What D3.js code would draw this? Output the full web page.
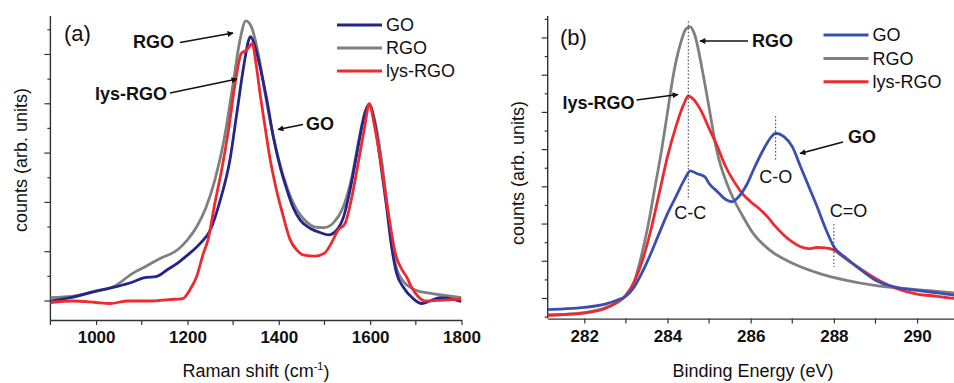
<!DOCTYPE html>
<html>
<head>
<meta charset="utf-8">
<script src="https://cdn.jsdelivr.net/npm/d3@7"></script>
<style>
  body { margin: 0; background: #fff; }
  svg { display: block; font-family: "Liberation Sans", Arial, sans-serif; }
</style>
</head>
<body>
<svg id="chart" width="954" height="383"></svg>
<script>
// ---- panel (a): Raman spectra, [shift cm^-1, counts] ----
const ramanGO = [[900,0.0],[950,0.08],[1000,0.2],[1030,0.26],[1060,0.33],[1082,0.39],[1104,0.47],[1133,0.5],[1155,0.63],[1180,0.78],[1200,0.93],[1228,1.17],[1250,1.44],[1272,2.05],[1293,2.86],[1308,3.8],[1323,4.75],[1334,5.29],[1338,5.36],[1348,5.16],[1359,4.75],[1374,4.07],[1388,3.33],[1403,2.72],[1418,2.25],[1432,1.88],[1447,1.64],[1469,1.47],[1490,1.39],[1509,1.34],[1527,1.44],[1542,1.71],[1556,2.25],[1571,2.99],[1585,3.67],[1598,3.99],[1610,3.6],[1621,2.93],[1636,1.91],[1647,1.1],[1658,0.56],[1672,0.29],[1694,0.05],[1713,-0.05],[1731,0.0],[1753,0.07],[1775,0.05],[1800,-0.01]];
const ramanRGO = [[900,0.07],[950,0.1],[1000,0.2],[1040,0.3],[1080,0.56],[1100,0.66],[1140,0.86],[1180,1.05],[1200,1.24],[1220,1.5],[1240,1.88],[1260,2.45],[1280,3.26],[1300,4.41],[1315,5.29],[1328,5.68],[1340,5.56],[1355,5.02],[1370,4.21],[1385,3.47],[1400,2.86],[1420,2.25],[1440,1.84],[1460,1.61],[1480,1.5],[1500,1.49],[1520,1.59],[1540,1.88],[1560,2.52],[1575,3.26],[1590,3.87],[1598,3.97],[1610,3.67],[1625,2.86],[1640,1.71],[1655,0.76],[1670,0.43],[1700,0.22],[1730,0.16],[1760,0.12],[1800,0.07]];
const ramanLys = [[900,-0.03],[950,0.0],[1000,-0.03],[1030,-0.05],[1070,0.0],[1120,0.0],[1160,0.03],[1190,0.05],[1205,0.22],[1220,0.49],[1235,0.97],[1245,1.24],[1260,1.98],[1275,2.66],[1290,3.47],[1305,4.45],[1318,5.02],[1330,5.09],[1342,5.22],[1350,4.82],[1360,4.14],[1370,3.53],[1380,2.93],[1395,2.25],[1410,1.71],[1425,1.24],[1440,1.03],[1455,0.93],[1480,0.91],[1500,0.97],[1515,1.17],[1530,1.44],[1545,1.57],[1560,2.11],[1575,2.86],[1588,3.53],[1598,4.0],[1610,3.53],[1625,2.72],[1640,1.78],[1655,0.97],[1670,0.63],[1680,0.49],[1690,0.29],[1705,0.09],[1720,0.0],[1760,0.02],[1800,0.04]];
const ramanTicks = [1000, 1200, 1400, 1600, 1800];

// ---- panel (b): XPS C1s, [binding energy eV, counts] ----
const xpsGO = [[281.12,-0.3],[281.5,-0.28],[282,-0.24],[282.5,-0.15],[282.8,-0.04],[283,0.06],[283.2,0.31],[283.4,0.72],[283.6,1.21],[283.8,1.75],[284,2.28],[284.2,2.73],[284.4,3.18],[284.55,3.43],[284.7,3.36],[284.9,3.27],[285,3.09],[285.2,2.87],[285.4,2.66],[285.55,2.6],[285.7,2.72],[285.9,3.05],[286.1,3.54],[286.3,3.99],[286.5,4.35],[286.6,4.44],[286.8,4.35],[287,4.08],[287.2,3.54],[287.4,3.0],[287.6,2.46],[287.8,1.88],[288,1.39],[288.3,1.08],[288.6,0.81],[289,0.49],[289.5,0.3],[290,0.22],[290.5,0.15],[290.9,0.09]];
const xpsRGO = [[281.12,-0.45],[282,-0.38],[282.5,-0.25],[283,0.08],[283.2,0.45],[283.34,1.0],[283.54,2.0],[283.7,3.0],[283.86,4.0],[284.0,5.0],[284.14,6.0],[284.3,6.8],[284.45,7.25],[284.55,7.3],[284.65,7.1],[284.86,6.0],[285.02,5.0],[285.18,4.0],[285.46,3.0],[285.82,2.19],[286.06,1.75],[286.46,1.3],[287.02,0.94],[287.66,0.67],[288.3,0.49],[288.94,0.36],[289.66,0.27],[290.3,0.21],[290.9,0.15]];
const xpsLys = [[281.12,-0.45],[281.5,-0.43],[282,-0.39],[282.5,-0.27],[282.8,-0.09],[283,0.09],[283.2,0.45],[283.4,1.03],[283.6,1.84],[283.8,2.82],[284,3.81],[284.2,4.61],[284.4,5.24],[284.5,5.44],[284.6,5.38],[284.8,5.06],[285,4.57],[285.2,4.08],[285.4,3.54],[285.6,3.14],[285.8,2.82],[286,2.6],[286.2,2.42],[286.4,2.2],[286.6,1.93],[286.8,1.7],[287,1.52],[287.2,1.39],[287.4,1.34],[287.6,1.37],[287.8,1.36],[288,1.3],[288.2,1.14],[288.5,0.9],[289,0.54],[289.5,0.27],[290,0.12],[290.5,0.06],[290.9,0.0]];
const xpsTicks = [282, 284, 286, 288, 290];
const seriesNames = ["GO", "RGO", "lys-RGO"];

const svg = d3.select("#chart");
const gray = "#808080", red = "#ee2a2f";
const axisColor = "#333";

svg.append("defs").append("marker").attr("id", "arrowhead")
  .attr("viewBox", "0 0 10 10").attr("refX", 9).attr("refY", 5)
  .attr("markerWidth", 9).attr("markerHeight", 6).attr("orient", "auto")
  .attr("markerUnits", "userSpaceOnUse")
  .append("path").attr("d", "M0,0 L10,5 L0,10 z").attr("fill", "#111");

function panel(opt) {
  const x = d3.scaleLinear().domain(opt.xDomain).range(opt.xRange);
  const y = d3.scaleLinear().domain(opt.yDomain).range(opt.yRange);
  const g = svg.append("g");
  const x0 = opt.xRange[0], yb = opt.yRange[0], yt = opt.yRange[1];

  // y ticks (major + minor, no labels)
  const yMaj = d3.range(Math.ceil(opt.yDomain[0]), opt.yDomain[1] + 1e-9, 1);
  const yMin = d3.range(Math.ceil(opt.yDomain[0] * 2) / 2, opt.yDomain[1], 0.5).filter(v => Math.abs(v - Math.round(v)) > 0.1);
  g.selectAll(".ymaj").data(yMaj).enter().append("line")
    .attr("x1", x0 - 6).attr("x2", x0).attr("y1", d => y(d)).attr("y2", d => y(d))
    .attr("stroke", axisColor).attr("stroke-width", 1.2);
  g.selectAll(".ymin").data(yMin).enter().append("line")
    .attr("x1", x0 - 3).attr("x2", x0).attr("y1", d => y(d)).attr("y2", d => y(d))
    .attr("stroke", axisColor).attr("stroke-width", 1.2);

  // x axis
  const xAxis = d3.axisBottom(x).tickValues(opt.xTicks).tickFormat(d3.format("d"))
    .tickSize(5).tickSizeOuter(0).tickPadding(6);
  const ax = g.append("g").attr("transform", `translate(0,${yb})`).call(xAxis);
  ax.select(".domain").attr("stroke", axisColor).attr("stroke-width", 1.4);
  ax.selectAll(".tick line").attr("stroke", axisColor).attr("stroke-width", 1.2);
  ax.selectAll(".tick text").attr("font-size", 17).attr("font-weight", "bold")
    .attr("fill", "#111").attr("font-family", "Liberation Sans, Arial, sans-serif");
  g.selectAll(".xmin").data(opt.xMinor).enter().append("line")
    .attr("x1", d => x(d)).attr("x2", d => x(d)).attr("y1", yb).attr("y2", yb + 5)
    .attr("stroke", axisColor).attr("stroke-width", 1.2);
  // left axis line
  g.append("line").attr("x1", x0).attr("x2", x0).attr("y1", yt).attr("y2", yb)
    .attr("stroke", axisColor).attr("stroke-width", 1.4);

  // curves (drawing order given by opt.drawOrder)
  const line = d3.line().x(d => x(d[0])).y(d => y(d[1])).curve(d3.curveMonotoneX);
  const clipId = "clip" + opt.id;
  g.append("clipPath").attr("id", clipId).append("rect")
    .attr("x", x0).attr("y", yt).attr("width", opt.xRange[1] - x0).attr("height", yb - yt);
  const curves = g.append("g").attr("clip-path", `url(#${clipId})`);
  opt.drawOrder.forEach(i => {
    const s = opt.series[i];
    curves.append("path").datum(s.data).attr("d", line)
      .attr("fill", "none").attr("stroke", s.color).attr("stroke-width", 2.8)
      .attr("stroke-linejoin", "round");
  });

  // legend: GO, RGO, lys-RGO
  opt.series.forEach((s, i) => {
    const ly = opt.legend.y + i * opt.legend.dy;
    g.append("line").attr("x1", opt.legend.x).attr("x2", opt.legend.x + 45)
      .attr("y1", ly).attr("y2", ly).attr("stroke", s.color).attr("stroke-width", 3);
    g.append("text").attr("x", opt.legend.x + 49).attr("y", ly).attr("dy", "0.35em")
      .attr("font-size", 18).attr("fill", "#111").text(seriesNames[i]);
  });

  // panel tag
  g.append("text").attr("x", opt.tag[0]).attr("y", opt.tag[1]).attr("dy", "0.35em")
    .attr("font-size", 22).attr("fill", "#111").text(opt.tagText);

  // axis titles
  g.append("text").attr("transform", `translate(${opt.yTitle[0]},${opt.yTitle[1]}) rotate(-90)`)
    .attr("text-anchor", "middle").attr("dy", "0.35em").attr("font-size", 18).attr("fill", "#111")
    .text("counts (arb. units)");
  const xt = g.append("text").attr("x", opt.xTitle[0]).attr("y", opt.xTitle[1]).attr("dy", "0.35em")
    .attr("text-anchor", "middle").attr("font-size", 18).attr("fill", "#111");
  opt.xTitleParts.forEach(p => {
    const ts = xt.append("tspan").text(p.t);
    if (p.sup) ts.attr("font-size", 11).attr("dy", "-0.7em");
    if (p.after) ts.attr("dy", "0.45em");
  });

  return { x, y, g };
}

function arrow(g, x1, y1, x2, y2) {
  g.append("line").attr("x1", x1).attr("y1", y1).attr("x2", x2).attr("y2", y2)
    .attr("stroke", "#111").attr("stroke-width", 1.6).attr("marker-end", "url(#arrowhead)");
}

function label(g, x, y, t, bold, anchor) {
  g.append("text").attr("x", x).attr("y", y).attr("dy", "0.35em")
    .attr("text-anchor", anchor || "start").attr("font-size", 18)
    .attr("font-weight", bold ? "bold" : "normal").attr("fill", "#111").text(t);
}

// ---- panel (a) ----
const pa = panel({
  id: "a",
  xDomain: [900, 1800], xRange: [50.4, 461.5],
  yDomain: [-0.385, 5.78], yRange: [320, 16],
  xTicks: ramanTicks, xMinor: [900, 1100, 1300, 1500, 1700],
  series: [
    { data: ramanGO, color: "#24248a" },
    { data: ramanRGO, color: gray },
    { data: ramanLys, color: red }
  ],
  drawOrder: [1, 0, 2],
  legend: { x: 337, y: 25, dy: 23 },
  tag: [64, 33], tagText: "(a)",
  yTitle: [21, 160], xTitle: [256, 371],
  xTitleParts: [{ t: "Raman shift (cm" }, { t: "-1", sup: true }, { t: ")", after: true }]
});

label(pa.g, 133, 42, "RGO", true);
arrow(pa.g, 180, 42.5, 233, 33);
label(pa.g, 95, 94, "lys-RGO", true);
arrow(pa.g, 170, 93, 237, 79);
label(pa.g, 306, 124, "GO", true);
arrow(pa.g, 303, 124.5, 278, 129.5);

// ---- panel (b) ----
const pb = panel({
  id: "b",
  xDomain: [281.12, 290.9], xRange: [547.7, 954.5],
  yDomain: [-0.54, 7.59], yRange: [318.6, 16],
  xTicks: xpsTicks, xMinor: [283, 285, 287, 289],
  series: [
    { data: xpsGO, color: "#3a4fb0" },
    { data: xpsRGO, color: gray },
    { data: xpsLys, color: red }
  ],
  drawOrder: [1, 2, 0],
  legend: { x: 823.5, y: 35, dy: 23.4 },
  tag: [560, 37], tagText: "(b)",
  yTitle: [518, 173], xTitle: [753, 371],
  xTitleParts: [{ t: "Binding Energy (eV)" }]
});

// dotted guide lines
[[284.5, 7.45, 2.65], [286.6, 4.9, 3.7], [288.0, 2.0, 0.85]].forEach(d => {
  pb.g.append("line").attr("x1", pb.x(d[0])).attr("x2", pb.x(d[0]))
    .attr("y1", pb.y(d[1])).attr("y2", pb.y(d[2]))
    .attr("stroke", "#333").attr("stroke-width", 1).attr("stroke-dasharray", "1.5,2");
});
label(pb.g, pb.x(284.55), 213, "C-C", false, "middle");
label(pb.g, pb.x(286.6), 177, "C-O", false, "middle");
label(pb.g, pb.x(288.35), 211, "C=O", false, "middle");

label(pb.g, 752, 41, "RGO", true);
arrow(pb.g, 748, 41, 700, 41);
label(pb.g, 562.5, 103, "lys-RGO", true);
arrow(pb.g, 636.5, 100, 678, 94.5);
label(pb.g, 848, 137, "GO", true);
arrow(pb.g, 843, 142, 800, 153.5);
</script>
</body>
</html>
